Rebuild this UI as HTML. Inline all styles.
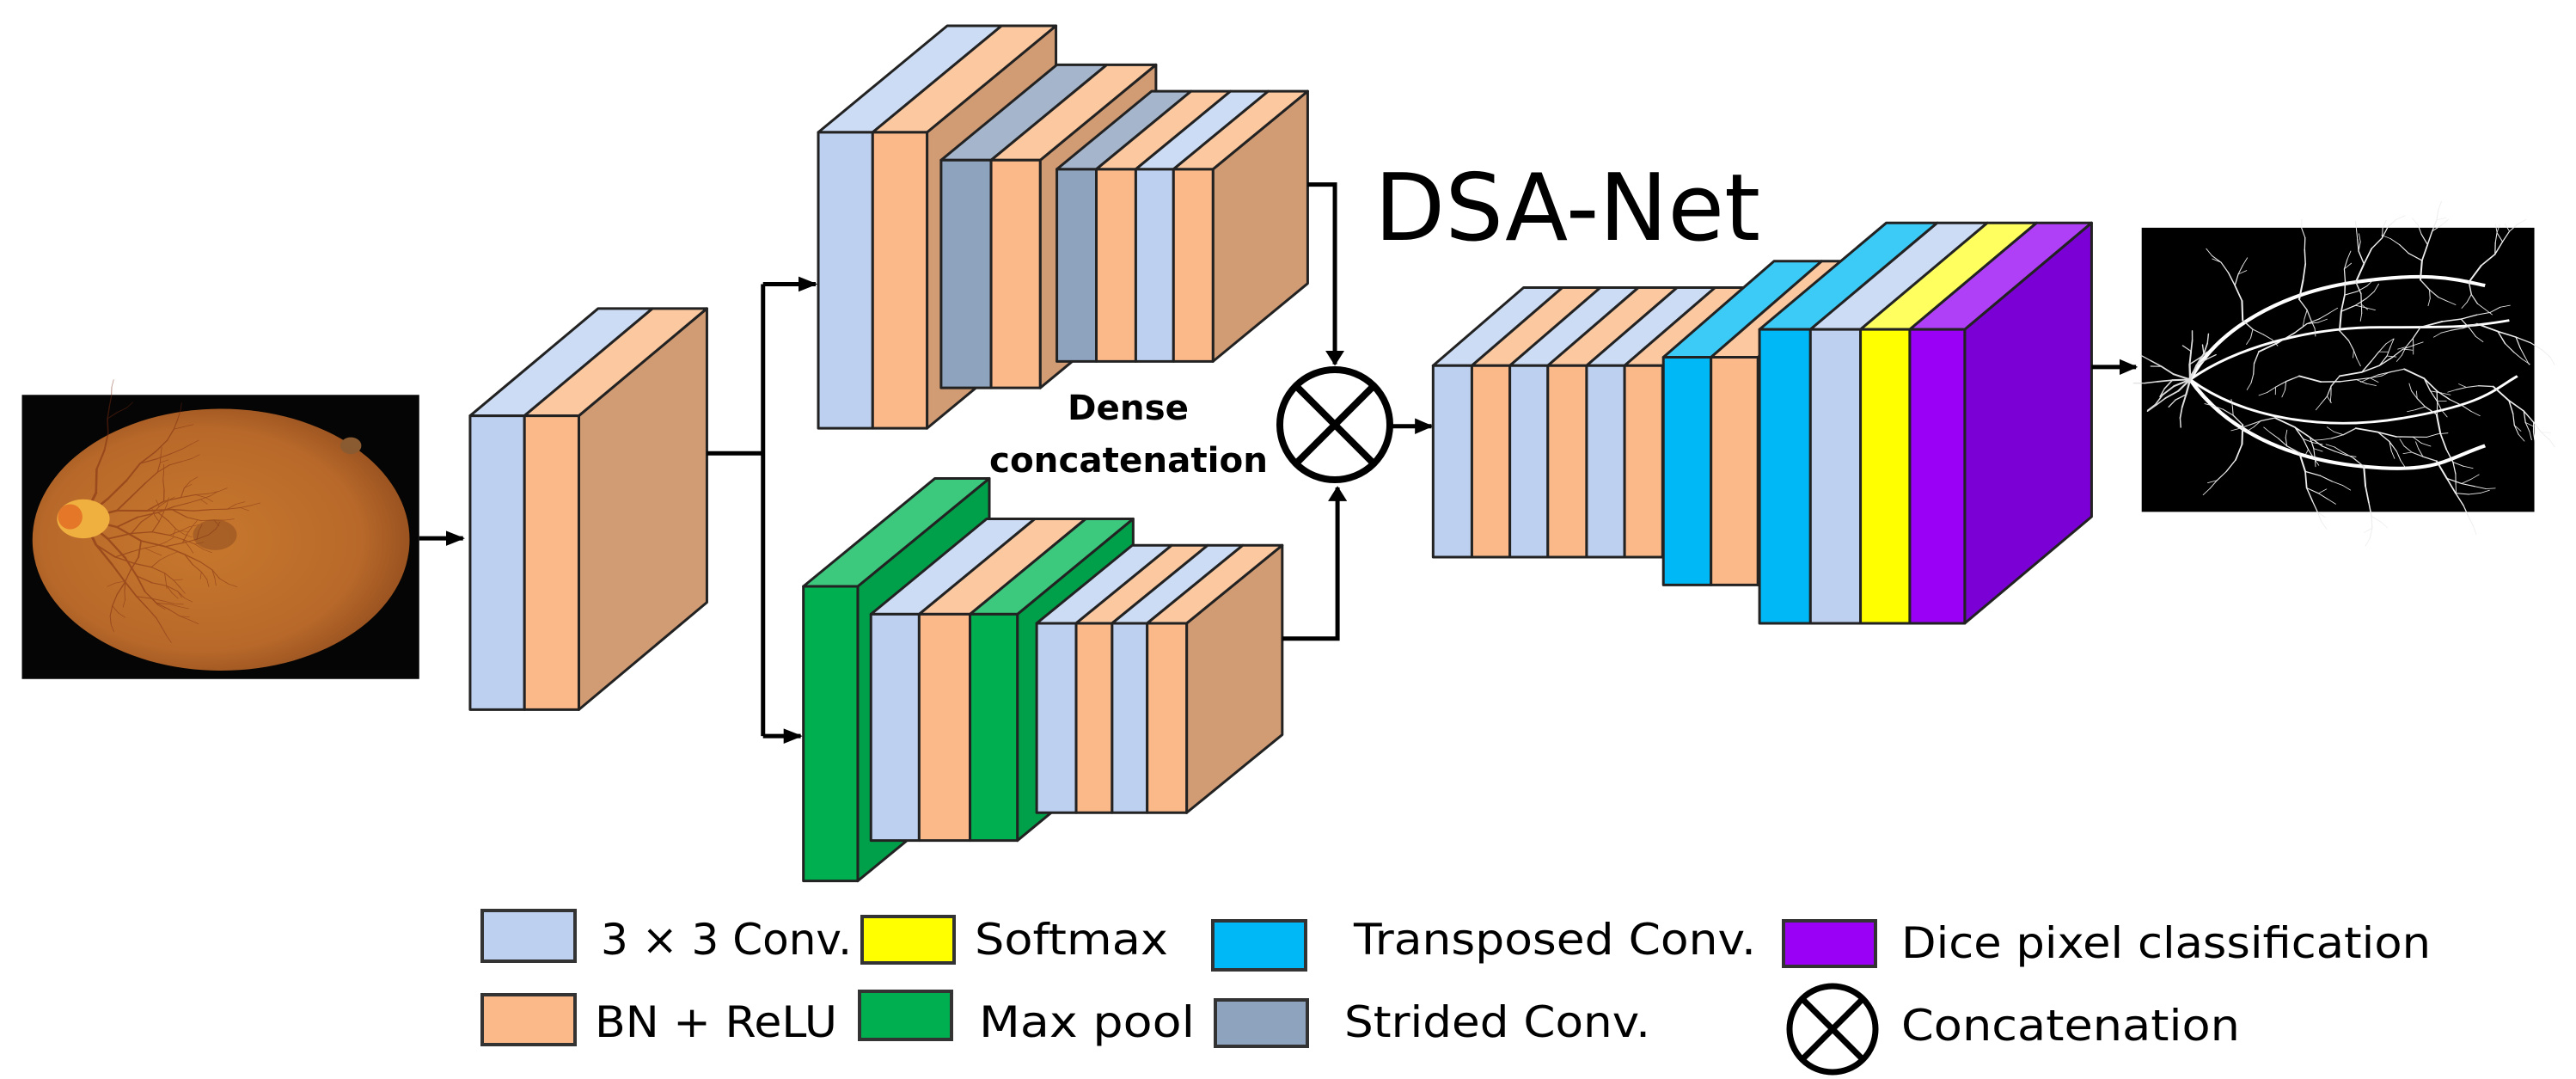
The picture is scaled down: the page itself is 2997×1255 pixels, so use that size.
<!DOCTYPE html>
<html><head><meta charset="utf-8"><style>
html,body{margin:0;padding:0;background:#fff;}
svg{display:block;}
text{font-family:"DejaVu Sans","Liberation Sans",sans-serif;fill:#000;}
</style></head><body>
<svg id="s" xmlns="http://www.w3.org/2000/svg" width="2997" height="1255" viewBox="0 0 2997 1255">
<defs>
<radialGradient id="fg" cx="0.45" cy="0.5" r="0.6">
<stop offset="0" stop-color="#c8782c"/><stop offset="0.7" stop-color="#b8692a"/><stop offset="1" stop-color="#8f4a1c"/>
</radialGradient>
<marker id="ah" viewBox="0 0 10 10" refX="9" refY="5" markerWidth="4" markerHeight="4" orient="auto"><path d="M0,0L10,5L0,10z" fill="#000"/></marker>
</defs>
<g id="L" transform="scale(1.0204,0.81)"></g>
<g id="R" transform="translate(1500,0) scale(0.94,0.81)"></g>

<circle cx="1553" cy="494" r="64" fill="#fff" stroke="#000" stroke-width="8"/>
<line x1="1508" y1="449" x2="1598" y2="539" stroke="#000" stroke-width="8"/>
<line x1="1598" y1="449" x2="1508" y2="539" stroke="#000" stroke-width="8"/>

<text x="1599" y="279" font-size="108" textLength="449" lengthAdjust="spacingAndGlyphs">DSA-Net</text>
<text x="1242" y="488" font-size="40" font-weight="bold" textLength="141" lengthAdjust="spacingAndGlyphs">Dense</text>
<text x="1151" y="549" font-size="40" font-weight="bold" textLength="324" lengthAdjust="spacingAndGlyphs">concatenation</text>

<g stroke="#333" stroke-width="4">
<rect x="561" y="1059" width="108" height="59" fill="#bdd0f0"/>
<rect x="1003" y="1066" width="107" height="54" fill="#ffff00"/>
<rect x="1411" y="1071" width="108" height="57" fill="#00b8f5"/>
<rect x="2075" y="1071" width="107" height="53" fill="#9a00f5"/>
<rect x="561" y="1157" width="108" height="58" fill="#fbb98a"/>
<rect x="1000" y="1153" width="107" height="56" fill="#00b050"/>
<rect x="1414" y="1163" width="107" height="54" fill="#8ea3bd"/>
</g>
<circle cx="2132" cy="1197" r="50" fill="#fff" stroke="#000" stroke-width="7"/>
<line x1="2097" y1="1162" x2="2167" y2="1232" stroke="#000" stroke-width="7"/>
<line x1="2167" y1="1162" x2="2097" y2="1232" stroke="#000" stroke-width="7"/>

<g font-size="50">
<text x="699" y="1110" textLength="292" lengthAdjust="spacingAndGlyphs">3 × 3 Conv.</text>
<text x="1134" y="1110" textLength="225" lengthAdjust="spacingAndGlyphs">Softmax</text>
<text x="1575" y="1110" textLength="468" lengthAdjust="spacingAndGlyphs">Transposed Conv.</text>
<text x="2212" y="1114" textLength="616" lengthAdjust="spacingAndGlyphs">Dice pixel classification</text>
<text x="692" y="1206" textLength="282" lengthAdjust="spacingAndGlyphs">BN + ReLU</text>
<text x="1139" y="1206" textLength="251" lengthAdjust="spacingAndGlyphs">Max pool</text>
<text x="1564" y="1206" textLength="356" lengthAdjust="spacingAndGlyphs">Strided Conv.</text>
<text x="2212" y="1210" textLength="394" lengthAdjust="spacingAndGlyphs">Concatenation</text>
</g>
</svg>
<script>
var NS="http://www.w3.org/2000/svg";
function el(p,tag,a){var e=document.createElementNS(NS,tag);for(var k in a)e.setAttribute(k,a[k]);p.appendChild(e);return e;}
var C={b:["#bdd0f0","#ccdcf4"],o:["#fbb98a","#fbc8a0"],g:["#8ea3bd","#a5b6cc"],G:["#00b050","#3cc97e"],c:["#00b8f5","#3ccaf7"],y:["#ffff00","#ffff60"],p:["#9a00f5","#b040f7"]};
var SIDE={o:"#d19b74",G:"#00a04a",p:"#7b00d6",b:"#a9bcdc",c:"#00a0d8"};
function poly(g,pts,fill){el(g,"polygon",{points:pts.map(function(p){return p.join(",")}).join(" "),fill:fill,stroke:"#222","stroke-width":3,"vector-effect":"non-scaling-stroke","stroke-linejoin":"round"});}
function group(g,xs,cols,y0,y1,dx,dy){
 var last=cols[cols.length-1],xr=xs[xs.length-1];
 poly(g,[[xr,y0],[xr+dx,y0-dy],[xr+dx,y1-dy],[xr,y1]],SIDE[last]||"#d19b74");
 for(var i=0;i<cols.length;i++){var a=xs[i],b=xs[i+1],c=C[cols[i]];
  poly(g,[[a,y0],[b,y0],[b+dx,y0-dy],[a+dx,y0-dy]],c[1]);
  poly(g,[[a,y0],[b,y0],[b,y1],[a,y1]],c[0]);}
}
function line(g,pts,arrow){var e=el(g,"polyline",{points:pts.map(function(p){return p.join(",")}).join(" "),fill:"none",stroke:"#000","stroke-width":5,"vector-effect":"non-scaling-stroke"});if(arrow)e.setAttribute("marker-end","url(#ah)");}
var L=document.getElementById("L"),R=document.getElementById("R");
var seed=7;function rnd(){seed=(seed*16807)%2147483647;return seed/2147483647;}
function branch(g,x,y,ang,len,w,col,d){if(d<=0||len<5)return;var x2=x+Math.cos(ang)*len,y2=y+Math.sin(ang)*len;el(g,"line",{x1:x,y1:y,x2:x2,y2:y2,stroke:col,"stroke-width":w,"stroke-linecap":"round"});branch(g,x2,y2,ang+(rnd()-0.5)*0.7,len*0.85,w*0.85,col,d-1);if(rnd()<0.5)branch(g,x2,y2,ang+(rnd()<0.5?1:-1)*(0.5+rnd()*0.6),len*0.7,w*0.7,col,d-2);}
// fundus
el(L,"rect",{x:25,y:567,width:453,height:408,fill:"#050505"});
el(L,"ellipse",{cx:252,cy:775,rx:215,ry:188,fill:"url(#fg)"});
el(L,"ellipse",{cx:245,cy:768,rx:25,ry:22,fill:"#8a4a20",opacity:0.5});
el(L,"circle",{cx:400,cy:640,r:12,fill:"#8a5a30"});
var fv=el(L,"g",{opacity:0.5});
[-1.2,-0.8,-0.3,0.3,0.8,1.2].forEach(function(a){branch(fv,95,745,a,40,3,"#7a2a10",9);});
el(L,"ellipse",{cx:95,cy:745,rx:30,ry:28,fill:"#f0b040"});
el(L,"ellipse",{cx:80,cy:742,rx:14,ry:18,fill:"#e06020",opacity:0.7});
line(L,[[478,773],[528,773]],true);
// block1
group(L,[536,598,660],["b","o"],597,1019,146,154);
line(L,[[806,651],[870,651]]);
line(L,[[870,408],[870,1057]]);
line(L,[[870,408],[930,408]],true);
line(L,[[870,1057],[913,1057]],true);
// top branch
group(L,[933,995,1057],["b","o"],190,615,147,153);
group(L,[1073,1130,1186],["g","o"],230,557,132,137);
group(L,[1205,1250,1295,1338,1383],["g","o","b","o"],243,519,108,112);
line(L,[[1491,265],[1522,265],[1522,523]],true);
// bottom branch
group(L,[916,978],["G"],842,1265,150,155);
group(L,[993,1048,1106,1160],["b","o","G"],882,1207,132,137);
group(L,[1182,1227,1268,1308,1353],["b","o","b","o"],895,1167,109,112);
line(L,[[1462,917],[1525,917],[1525,700]],true);
// right
line(R,[[128,612],[176,612]],true);
group(R,[178,226,273,320,368,415,462],["b","o","b","o","b","o"],525,800,112,112);
group(R,[463,522,580],["c","o"],513,840,137,138);
group(R,[582,645,707,768,836],["c","b","y","p"],473,895,157,153);
line(R,[[993,527],[1048,527]],true);
el(R,"rect",{x:1055,y:327,width:486,height:408,fill:"#000"});
seed=11;var wv=el(R,"g",{});
// main arcs
var arcs=[
 "M1115,545 C1150,470 1230,420 1320,405 S1440,400 1480,410",
 "M1115,545 C1170,500 1260,470 1350,470 S1460,470 1510,460",
 "M1115,545 C1160,620 1240,660 1330,670 S1430,660 1480,640",
 "M1115,545 C1180,600 1280,620 1380,600 S1490,560 1520,540"];
arcs.forEach(function(d,i){el(wv,"path",{d:d,fill:"none",stroke:"#fff","stroke-width":i<1||i==2?5:3.5});});
// branches along arcs
var pts=[[1180,460,-1.6],[1250,430,-1.4],[1320,405,-1.2],[1400,402,-1.5],[1460,405,-1],[1200,505,-0.5],[1300,475,-1.5],[1400,470,-0.3],[1470,465,0.4],
[1180,610,1.6],[1250,650,1.3],[1330,670,1.5],[1420,662,1.1],[1220,600,0.5],[1320,615,0.2],[1420,595,1.4],[1490,555,0.8],[1300,540,-0.2],[1380,530,0.5],[1250,540,0.3]];
pts.forEach(function(p){branch(wv,p[0],p[1],p[2],28,2.2,"#eee",6);branch(wv,p[0],p[1],p[2]+2.4,18,1.6,"#ddd",4);});
[-1.6,-1.2,2.3,2.7,3.1,3.5,1.8].forEach(function(a){branch(wv,1115,545,a,22,2.5,"#ddd",4);});
</script>
</body></html>
